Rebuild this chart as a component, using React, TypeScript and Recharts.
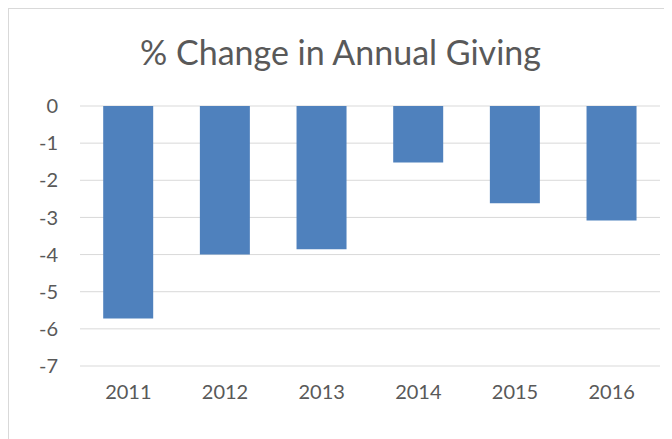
import React from "react";
import { Bar, BarChart, CartesianGrid, XAxis, YAxis } from "recharts";

const years = ["2011", "2012", "2013", "2014", "2015", "2016"];
const changes = [-5.72, -4.0, -3.86, -1.52, -2.62, -3.08];
const yTicks = [0, -1, -2, -3, -4, -5, -6, -7];

const data = years.map((year, i) => ({ year, change: changes[i] }));

const textColor = "#595959";
const font = "Lato, 'Open Sans', sans-serif";

export default function App() {
  return (
    <div
      style={{
        position: "relative",
        width: 672,
        height: 439,
        border: "1px solid #d9d9d9",
        background: "#fff",
        fontFamily: font,
      }}
    >
      <div
        style={{
          position: "absolute",
          top: 22,
          left: 0,
          width: 663,
          textAlign: "center",
          fontSize: 34,
          color: textColor,
        }}
      >
        % Change in Annual Giving
      </div>
      <BarChart
        width={663}
        height={430}
        data={data}
        margin={{ top: 97, right: 12, bottom: 43, left: 0 }}
        barCategoryGap="24%"
      >
        <CartesianGrid stroke="#d9d9d9" vertical={false} />
        <XAxis
          dataKey="year"
          axisLine={false}
          tickLine={false}
          tickSize={0}
          tickMargin={19}
          height={30}
          tick={{ fill: textColor, fontSize: 20, fontFamily: font }}
        />
        <YAxis
          domain={[-7, 0]}
          ticks={yTicks}
          interval={0}
          axisLine={false}
          tickLine={false}
          tickSize={0}
          tickMargin={22}
          width={71}
          tick={{ fill: textColor, fontSize: 20, fontFamily: font }}
        />
        <Bar dataKey="change" fill="#4f81bd" isAnimationActive={false} />
      </BarChart>
    </div>
  );
}
